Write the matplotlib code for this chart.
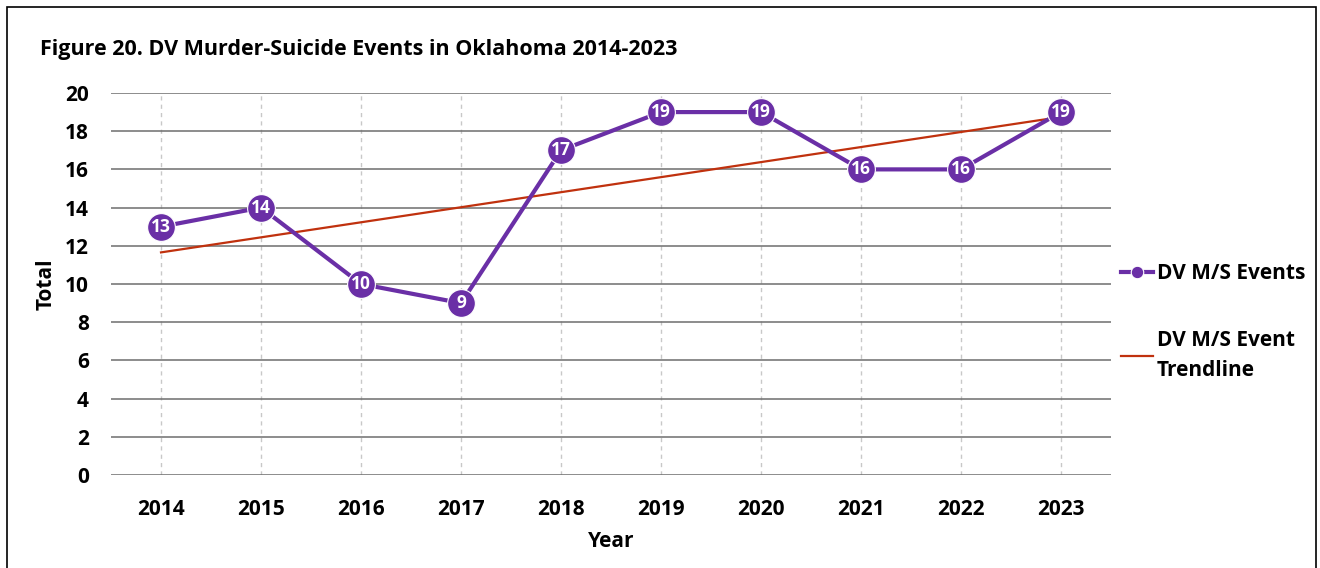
import matplotlib.pyplot as plt
import numpy as np
from matplotlib.patches import Rectangle

years = ['2014', '2015', '2016', '2017', '2018', '2019', '2020', '2021', '2022', '2023']
events = [13, 14, 10, 9, 17, 19, 19, 16, 16, 19]

plt.rcParams['font.family'] = ['Open Sans', 'DejaVu Sans']
plt.rcParams['font.weight'] = 'bold'

purple = '#6a2fa6'
trend_color = '#c0310e'

fig = plt.figure(figsize=(13.2, 5.68), dpi=100)
ax = fig.add_axes([0.0841, 0.1637, 0.7576, 0.6726])

# outer frame around the chart
fig.patches.append(Rectangle((0.005, -0.02), 0.992, 1.008, transform=fig.transFigure,
                             fill=False, edgecolor='black', linewidth=1.2))

x = np.arange(len(years))

# linear trend fitted to the yearly counts
slope, intercept = np.polyfit(x, events, 1)
trend = slope * x + intercept

for xi in x:
    ax.axvline(xi, color='#c8c8c8', linestyle=(0, (3, 3)), linewidth=1, zorder=1)
for yv in range(0, 21, 2):
    ax.axhline(yv, color='#6e6e6e', linewidth=1.1, zorder=1)

ax.plot(x, events, color=purple, linewidth=3, marker='o', markersize=20,
        markerfacecolor=purple, markeredgecolor='white', markeredgewidth=0.8,
        label='DV M/S Events', zorder=4)
ax.plot([x[0], x[-1]], [trend[0], trend[-1]], color=trend_color, linewidth=1.6,
        label='DV M/S Event\nTrendline', zorder=3)

for xi, v in zip(x, events):
    ax.text(xi, v, str(v), color='white', fontsize=12.5, fontweight='bold',
            ha='center', va='center', zorder=5)

ax.set_xlim(-0.5, 9.5)
ax.set_ylim(0, 20)
ax.set_xticks(x)
ax.set_xticklabels(years)
ax.set_yticks(range(0, 21, 2))
ax.tick_params(length=0, labelsize=15)
ax.tick_params(axis='x', pad=17)
ax.tick_params(axis='y', pad=16)
for s in ax.spines.values():
    s.set_visible(False)

ax.set_xlabel('Year', fontsize=15, fontweight='bold', labelpad=8)
ax.set_ylabel('Total', fontsize=15, fontweight='bold', labelpad=6)

fig.text(0.030, 0.913, 'Figure 20. DV Murder-Suicide Events in Oklahoma 2014-2023',
         fontsize=15.5, fontweight='bold', ha='left', va='center')

leg = ax.legend(loc='center left', bbox_to_anchor=(1.0, 0.40), frameon=False,
                fontsize=15, handlelength=1.5, handletextpad=0.2,
                borderaxespad=0.1, labelspacing=2.2, markerscale=0.45)
for t in leg.get_texts():
    t.set_linespacing(1.6)

fig.savefig('out.png', dpi=100)
